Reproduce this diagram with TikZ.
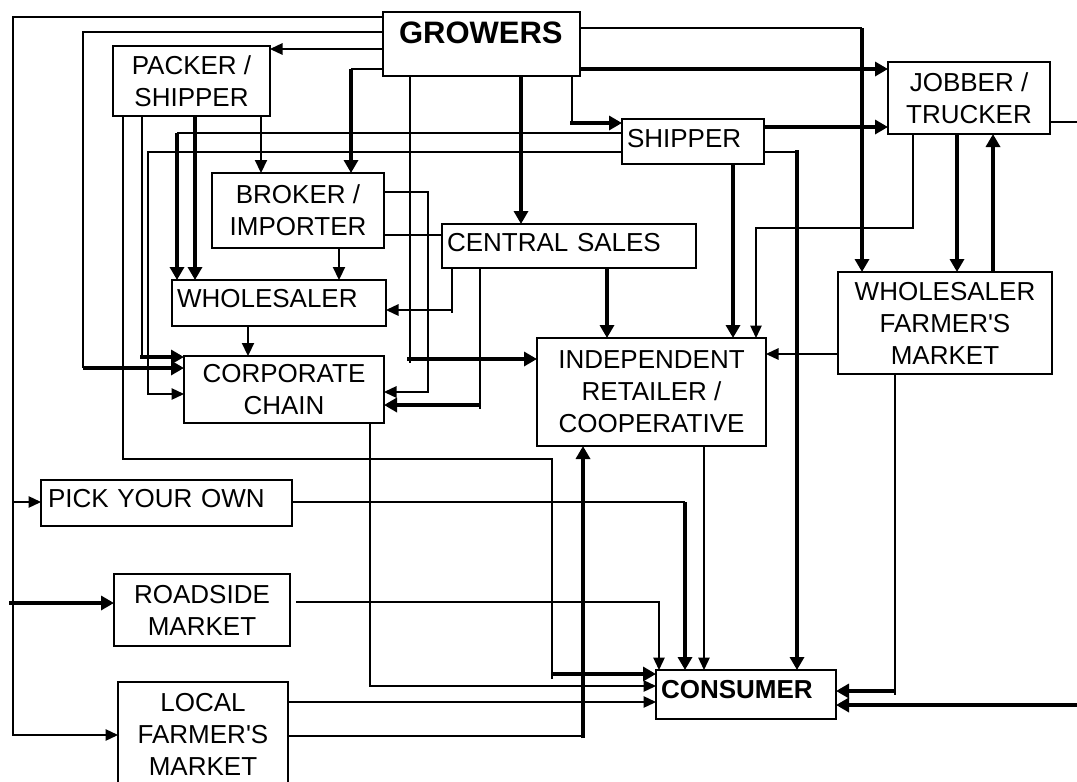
\documentclass[tikz,border=0pt]{standalone}
\usepackage{fontspec}
\setmainfont{Liberation Sans}[Ligatures=TeXOff]
\usetikzlibrary{arrows.meta}
\begin{document}
\begin{tikzpicture}[x=1pt,y=-1pt,
  ln/.style={line width=1.3pt},
  md/.style={line width=2.2pt, >={Triangle[length=13pt,width=12pt]}},
  tk/.style={line width=3.6pt, >={Triangle[length=13pt,width=14pt]}},
  >={Triangle[length=12.5pt,width=11.5pt]},
  boxbase/.style={draw, line width=1.5pt, inner sep=0pt, outer sep=0pt, font=\fontsize{26}{32}\selectfont},
  mbox/.style={boxbase, align=center},
  sbox/.style={boxbase, align=left, inner ysep=0pt, anchor=base west},
]
\useasboundingbox[fill=white] (0,0) rectangle (1077,782);

% boxes
\node[sbox, font=\bfseries\fontsize{31}{36}\selectfont, inner xsep=16pt, text width=165pt, text height=31pt, text depth=33pt] (grow) at (383,43) {GROWERS};
\node[mbox, minimum width=157pt, minimum height=70pt] (pack) at (191.5,81) {PACKER /\\SHIPPER};
\node[mbox, minimum width=172pt, minimum height=75pt] (brok) at (298,210.5) {BROKER /\\IMPORTER};
\node[sbox, inner xsep=5pt, text width=132pt, text height=28pt, text depth=17pt] (shp) at (622,147) {SHIPPER};
\node[sbox, inner xsep=5pt, text width=244pt, text height=27pt, text depth=17pt] (cen) at (442,251) {CENTRAL SALES};
\node[mbox, minimum width=162pt, minimum height=72pt] (job) at (969,98) {JOBBER /\\TRUCKER};
\node[sbox, inner xsep=5pt, text width=204pt, text height=27pt, text depth=19pt] (whl) at (172,307) {WHOLESALER};
\node[mbox, minimum width=200pt, minimum height=67pt] (corp) at (284,389.5) {CORPORATE\\CHAIN};
\node[mbox, minimum width=229pt, minimum height=108pt] (ind) at (651.5,392) {INDEPENDENT\\RETAILER /\\COOPERATIVE};
\node[mbox, minimum width=214pt, minimum height=102pt] (wfm) at (945,323) {WHOLESALER\\FARMER'S\\MARKET};
\node[sbox, inner xsep=7pt, text width=237pt, text height=27pt, text depth=19pt] (pyo) at (41,507) {PICK YOUR OWN};
\node[mbox, minimum width=176pt, minimum height=72pt] (road) at (202,610) {ROADSIDE\\MARKET};
\node[mbox, minimum width=170pt, minimum height=104pt] (loc) at (203,734) {LOCAL\\FARMER'S\\MARKET};
\node[sbox, font=\bfseries\fontsize{26}{32}\selectfont, inner xsep=5pt, text width=170pt, text height=28pt, text depth=21pt] (cons) at (656,698) {CONSUMER};

% GROWERS left side
\draw[ln,->] (grow.west |- 0,17) -| (13,502) -- (pyo.west |- 0,502);
\draw[ln,->] (13,502) -- (13,735) -- (loc.west |- 0,735);
\coordinate (rsin) at (9,603);
\draw[tk,->] (rsin) -- (road.west |- rsin);
\draw[ln] (grow.west |- 0,32) -| (83,368);
\draw[tk,->] (83,368) -- (corp.west |- 0,368);
\draw[ln,->] (grow.west |- 0,49) -- (pack.east |- 0,49);
\draw[ln] (grow.west |- 0,69) -- (351,69);
\draw[tk,->] (351,69) -- (brok.north -| 351,0);

% GROWERS bottom
\draw[ln] (grow.south -| 410,0) -- (410,363);
\draw[tk,->] (407,359) -- (ind.west |- 0,359);
\draw[tk,->] (grow.south -| 521,0) -- (cen.north -| 521,0);
\draw[ln] (grow.south -| 572,0) -- (572,123);
\draw[tk,->] (570,123) -- (shp.west |- 0,123);

% GROWERS right
\draw[ln] (grow.east |- 0,28) -- (862,28);
\draw[tk,->] (862,28) -- (wfm.north -| 862,0);
\draw[tk,->] (grow.east |- 0,69) -- (job.west |- 0,69);

% SHIPPER
\draw[tk,->] (shp.east |- 0,127) -- (job.west |- 0,127);
\draw[ln] (shp.east |- 0,152) -- (797,152);
\draw[tk,->] (797,150) -- (cons.north -| 797,0);
\draw[tk,->] (shp.south -| 733,0) -- (ind.north -| 733,0);
\draw[ln] (shp.west |- 0,133) -- (177,133);
\draw[tk,->] (177,133) -- (whl.north -| 177,0);
\draw[ln,->] (shp.west |- 0,152) -| (148,394) -- (corp.west |- 0,394);

% PACKER / SHIPPER
\draw[ln] (pack.south -| 123,0) |- (552,459) -- (552,679);
\draw[tk,->] (552,674) -- (cons.west |- 0,674);
\draw[ln] (pack.south -| 142,0) -- (142,359);
\draw[tk,->] (140,357) -- (corp.west |- 0,357);
\draw[tk,->] (pack.south -| 195,0) -- (whl.north -| 195,0);
\draw[md,->] (pack.south -| 261,0) -- (brok.north -| 261,0);

% BROKER
\draw[md,->] (brok.south -| 339,0) -- (whl.north -| 339,0);
\draw[ln,->] (brok.east |- 0,192) -| (428,392) -- (corp.east |- 0,392);
\draw[ln] (brok.east |- 0,235) -- (cen.west |- 0,235);

% CENTRAL SALES
\draw[ln] (cen.south -| 452,0) -- (452,313);
\draw[ln,->] (452,310) -- (whl.east |- 0,310);
\draw[ln] (cen.south -| 480,0) -- (480,409);
\draw[tk,->] (480,405) -- (corp.east |- 0,405);
\draw[tk,->] (cen.south -| 607,0) -- (ind.north -| 607,0);

% JOBBER / TRUCKER
\coordinate (rt1) at (1095,122);
\coordinate (rt2) at (1095,705);
\draw[ln] (job.east |- rt1) -- (rt1) -- (rt2);
\draw[tk,->] (rt2) -- (cons.east |- rt2);
\draw[ln,->] (job.south -| 913,0) -- (913,228) -| (ind.north -| 756,0);
\draw[tk,->] (job.south -| 957,0) -- (wfm.north -| 957,0);
\draw[tk,->] (wfm.north -| 993,0) -- (job.south -| 993,0);

% WHOLESALER FARMER'S MARKET
\draw[ln,->] (wfm.west |- 0,354) -- (ind.east |- 0,354);
\draw[ln] (wfm.south -| 895,0) -- (895,695);
\draw[tk,->] (895,691) -- (cons.east |- 0,691);

% WHOLESALER, CORPORATE, INDEPENDENT
\draw[md,->] (whl.south -| 248,0) -- (corp.north -| 248,0);
\draw[ln,->] (corp.south -| 370,0) |- (cons.west |- 0,686);
\draw[ln,->] (ind.south -| 704,0) -- (cons.north -| 704,0);

% PICK YOUR OWN, ROADSIDE, LOCAL
\draw[ln] (pyo.east |- 0,502) -- (685,502);
\draw[tk,->] (685,502) -- (cons.north -| 685,0);
\coordinate (rsout) at (296,602);
\draw[ln,->] (rsout) -| (cons.north -| 659,0);
\draw[ln,->] (loc.east |- 0,702) -- (cons.west |- 0,702);
\draw[ln] (loc.east |- 0,736) -- (583,736);
\draw[tk,->] (583,738) -- (ind.south -| 583,0);
\end{tikzpicture}
\end{document}
